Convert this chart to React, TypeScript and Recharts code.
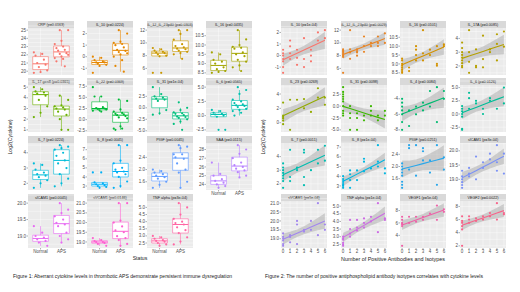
import React from "react";
import {
    ComposedChart,
    Scatter,
    Line,
    Area,
    XAxis,
    YAxis,
    CartesianGrid,
    ReferenceArea,
    ReferenceLine,
} from "recharts";

const FONT = "'Liberation Sans', Arial, sans-serif";

// ---- Figure 1: cytokine levels by status ----
const statusGroups = ["Normal", "APS"];

const boxTitles = [
    "CRP (p=0.0163)",
    "IL_10 (p=0.0224)",
    "IL_12_IL_23p40 (p=0.0303)",
    "IL_16 (p=0.0435)",
    "IL_17 gen8 (p=0.0365)",
    "IL_22 (p=0.0369)",
    "IL_31 (p=1e-04)",
    "IL_6 (p=0.0565)",
    "IL_7 (p=0.0224)",
    "IL_8 (p=0.0045)",
    "PIGF (p=0.0045)",
    "SAA (p=0.0115)",
    "sICAM1 (p=0.0045)",
    "sVCAM1 (p=0.0146)",
    "TNF alpha (p=3e-04)",
];

const boxColors = [
    "#F8766D", "#E58700", "#C99800", "#A3A500",
    "#6BB100", "#00BA38", "#00BF7D", "#00C0AF",
    "#00BCD8", "#00B0F6", "#619CFF", "#B983FF",
    "#E76BF3", "#FD61D1", "#FF67A4",
];

const boxNormal: number[][] = [
    [22.3, 22.1, 21.9, 21.4, 21.0, 20.8, 20.5, 20.1, 19.9, 19.8],
    [0.0, -0.1, -0.3, -0.4, -0.5, -0.5, -0.6, -0.7, -0.8, -1.4],
    [9.2, 9.0, 8.8, 8.6, 8.5, 8.4, 8.2, 8.0, 7.9, 5.3, 5.3],
    [9.6, 9.5, 9.2, 9.1, 9.0, 8.8, 8.7, 8.6, 8.55, 8.5],
    [5.0, 4.8, 4.6, 4.5, 4.4, 4.2, 3.8, 3.2, 2.6, 2.2],
    [7.3, 5.2, 5.2, 2.8, 2.6, 2.5, 2.4, 2.3, 2.1, 2.0, 1.8],
    [4.5, 3.0, 2.5, 2.2, 2.0, 1.8, 1.5, -0.5, -1.2, -1.5],
    [1.0, 0.8, 0.5, 0.3, 0.2, 0.0, -0.2, -2.5, -2.5],
    [3.3, 3.2, 2.9, 2.7, 2.6, 2.5, 2.4, 2.2, 2.0, 1.7],
    [4.5, 4.5, 3.4, 3.3, 3.2, 3.1, 3.0, 2.9, 2.8],
    [2.0, 1.95, 1.9, 1.85, 1.8, 1.75, 1.7, 1.6, 1.5, 1.4],
    [26.5, 25.2, 25.0, 24.6, 24.4, 24.2, 24.0, 23.8, 23.6],
    [19.3, 19.1, 19.0, 18.95, 18.9, 18.85, 18.8, 18.7],
    [19.2, 19.1, 19.05, 19.0, 19.0, 18.95, 18.9, 18.8],
    [3.0, 2.9, 2.8, 2.7, 2.65, 2.6, 2.5, 2.4, 2.3],
];

const boxAps: number[][] = [
    [25.0, 25.0, 23.7, 23.3, 23.0, 22.8, 22.6, 22.5, 22.2, 22.1, 22.0, 21.8, 21.6, 21.5, 21.2, 20.6],
    [2.3, 2.0, 1.3, 1.2, 1.1, 1.0, 0.8, 0.6, 0.5, 0.4, 0.3, 0.2, 0.0, -0.3, -0.8, -1.3],
    [12.0, 12.0, 11.4, 10.5, 9.8, 9.5, 9.3, 9.1, 9.0, 8.8, 8.6, 8.4, 8.2, 7.5],
    [10.8, 10.3, 10.0, 9.9, 9.85, 9.8, 9.6, 9.5, 9.4, 9.2, 9.1, 8.9, 8.8, 8.6],
    [4.2, 3.8, 3.3, 3.2, 3.1, 3.0, 2.9, 2.7, 2.4, 2.0, 1.0, 1.0],
    [4.5, 4.2, 2.3, 1.8, 1.5, 1.3, 1.2, 1.0, 0.8, 0.5, 0.3, -1.5, -2.0, -2.0, -2.3],
    [1.2, 0.0, -0.5, -1.0, -1.2, -1.3, -1.6, -1.9, -2.0, -2.2, -2.5, -3.0, -3.5, -4.8],
    [5.0, 4.5, 3.8, 2.8, 2.5, 2.2, 2.0, 1.8, 1.7, 1.5, 1.2, 1.0, 0.8, 0.5, 0.0],
    [4.5, 4.4, 4.3, 4.2, 4.0, 3.8, 3.5, 3.3, 3.0, 2.6, 2.3, 2.0, 1.8],
    [7.5, 7.5, 5.8, 5.5, 5.0, 4.8, 4.6, 4.5, 4.3, 4.0, 3.5, 3.0, 2.8],
    [2.8, 2.75, 2.7, 2.5, 2.5, 2.4, 2.35, 2.2, 2.0, 1.9, 1.6, 1.4],
    [28.5, 28.0, 27.5, 27.0, 26.5, 26.2, 26.0, 25.8, 25.6, 25.4, 25.0, 24.8],
    [20.0, 19.8, 19.7, 19.6, 19.5, 19.4, 19.35, 19.3, 19.1, 19.0, 18.9, 18.8],
    [21.0, 21.0, 20.1, 20.0, 19.8, 19.6, 19.5, 19.3, 19.2, 19.1, 18.9, 18.8],
    [5.3, 5.0, 4.5, 4.2, 4.0, 3.9, 3.8, 3.6, 3.4, 3.2, 2.9, 2.6, 2.4],
];

const boxTicks: number[][] = [
    [20, 21, 22, 23, 24, 25],
    [-1, 0, 1, 2],
    [6, 8, 10, 12],
    [8.5, 9.0, 9.5, 10.0, 10.5],
    [1, 2, 3, 4, 5],
    [-2.5, 0, 2.5, 5, 7.5],
    [-5, -2.5, 0, 2.5],
    [-2.5, 0, 2.5, 5],
    [2, 3, 4],
    [3, 4, 5, 6, 7],
    [1.6, 2.0, 2.4],
    [24, 25, 26, 27, 28],
    [19.0, 19.5, 20.0],
    [19.0, 19.5, 20.0, 20.5, 21.0],
    [2.5, 3.0, 3.5, 4.0, 4.5, 5.0],
];

// ---- Figure 2: cytokine levels vs number of positive antibodies ----
const countTicks = [0, 1, 2, 3, 4, 5, 6];

const fitTitles = [
    "IL_10 (p=1e-04)",
    "IL_12_IL_23p40 (p=0.0029)",
    "IL_16 (p=0.0101)",
    "IL_17A (p=0.0085)",
    "IL_23 (p=0.0269)",
    "IL_31 (p=0.0098)",
    "IL_4 (p=0.0084)",
    "IL_6 (p=0.0126)",
    "IL_7 (p=0.0011)",
    "IL_8 (p=1e-04)",
    "PIGF (p=0.0251)",
    "sICAM1 (p=3e-04)",
    "sVCAM1 (p=5e-04)",
    "TNF alpha (p=1e-04)",
    "VEGF1 (p=5e-04)",
    "VEGF2 (p=0.0022)",
];

const fitColors = [
    "#F8766D", "#E88526", "#D39200", "#B5A000",
    "#93AA00", "#3DB700", "#00BA70", "#00BE98",
    "#00BDB0", "#00B6E0", "#28A6EA", "#7C92F5",
    "#A287EE", "#CD6BE4", "#EE62A8", "#F7638A",
];

const fitCounts: number[][] = [
    [0, 0, 0, 0, 0, 0, 0, 1, 1, 1, 1, 2, 2, 2, 3, 3, 3, 4, 4, 4, 5, 5, 6, 6],
    [0, 0, 0, 0, 0, 0, 0, 0, 1, 1, 1, 1, 2, 2, 2, 2, 3, 3, 3, 4, 4, 5, 5, 5, 6, 6],
    [0, 0, 0, 0, 0, 0, 0, 0, 1, 1, 2, 2, 2, 2, 3, 3, 3, 4, 4, 5, 5, 5, 6, 6],
    [0, 0, 0, 0, 0, 0, 0, 0, 0, 1, 1, 1, 1, 2, 2, 2, 3, 3, 3, 4, 4, 5, 5, 5, 6, 6],
    [0, 0, 0, 0, 0, 0, 1, 1, 2, 3, 3, 4, 5, 5, 6, 6],
    [0, 0, 0, 0, 0, 0, 0, 0, 0, 0, 1, 1, 1, 1, 2, 2, 2, 3, 3, 4, 4, 4, 5, 5, 6, 6],
    [0, 0, 0, 0, 0, 0, 0, 1, 1, 2, 2, 3, 3, 4, 4, 5, 5, 6, 6],
    [0, 0, 0, 0, 0, 0, 0, 1, 1, 1, 2, 2, 3, 3, 4, 4, 5, 6, 6],
    [0, 0, 0, 0, 0, 0, 0, 0, 1, 1, 1, 2, 2, 3, 3, 3, 3, 4, 5, 5, 6, 6],
    [0, 0, 0, 0, 0, 0, 0, 1, 1, 1, 1, 2, 2, 3, 3, 3, 4, 5, 5, 5, 6, 6],
    [0, 0, 0, 0, 0, 0, 0, 0, 1, 1, 1, 2, 2, 3, 3, 3, 4, 4, 5, 5, 6, 6],
    [0, 0, 0, 0, 0, 0, 1, 1, 1, 2, 2, 3, 3, 4, 4, 5, 5, 5, 6, 6],
    [0, 0, 0, 0, 0, 0, 1, 1, 1, 2, 2, 2, 3, 3, 4, 4, 5, 5, 6, 6],
    [0, 0, 0, 0, 0, 0, 1, 1, 1, 1, 2, 2, 2, 3, 3, 3, 4, 4, 5, 5, 6, 6],
    [0, 0, 0, 0, 0, 0, 1, 1, 2, 2, 3, 3, 4, 5, 5, 6, 6],
    [0, 0, 0, 0, 0, 0, 1, 1, 1, 2, 2, 3, 3, 4, 4, 5, 5, 6, 6],
];

const fitLevels: number[][] = [
    [-1.5, -1.0, -0.5, -0.3, 0.0, 0.2, 0.5, 1.3, 0.8, 0.2, -0.3, 0.5, -0.2, -0.8, 1.5, -0.3, -1.0, -0.5, 0.0, 0.5, 1.3, 2.0, 2.2, 1.5],
    [9.0, 8.8, 8.6, 8.4, 8.2, 8.0, 7.8, 5.3, 12.0, 7.5, 8.5, 9.0, 8.5, 8.7, 9.0, 8.0, 11.0, 9.5, 8.6, 9.5, 10.0, 11.0, 10.0, 9.5, 11.5, 10.0],
    [9.3, 9.2, 9.0, 8.9, 8.8, 8.7, 8.6, 8.5, 8.8, 8.6, 9.5, 9.8, 10.0, 9.2, 10.9, 9.6, 9.2, 9.5, 9.8, 9.0, 8.9, 10.0, 10.1, 10.0],
    [3.7, 3.3, 3.0, 2.8, 2.6, 2.4, 2.2, 2.0, 1.9, 4.6, 3.0, 2.3, 1.5, 3.2, 2.0, 1.9, 4.2, 2.5, 1.9, 3.2, 3.0, 4.3, 3.6, 2.4, 4.5, 3.4],
    [2.8, 1.0, 0.8, 0.6, 0.3, -0.2, 3.2, -1.0, 3.2, 3.3, 2.0, 1.5, 4.8, 3.5, 3.5, 2.5],
    [4.0, 3.0, 2.5, 2.0, 1.5, 1.0, 0.0, -1.0, -1.5, -2.0, 0.0, -1.5, -2.5, -5.0, -1.5, -2.5, -5.0, -2.0, -3.0, -1.0, 0.0, -2.0, -2.0, -3.0, -1.0, -2.0],
    [-4.0, -4.5, -5.0, -5.5, -6.0, -7.0, -8.0, -5.5, -7.5, -5.0, -6.0, -4.5, -5.5, -3.0, -5.0, -2.5, -7.0, -3.0, -4.0],
    [1.5, 1.0, 0.5, 0.0, -0.5, -2.8, -3.0, 4.0, 3.0, 1.0, 2.5, 2.0, 1.0, 0.0, 3.0, 2.5, 1.0, 5.0, 2.0],
    [3.5, 3.2, 3.0, 2.8, 2.6, 2.4, 2.2, 1.7, 4.5, 2.5, 2.2, 3.2, 3.0, 4.5, 4.3, 2.5, 1.9, 3.0, 4.5, 3.5, 4.8, 3.7],
    [4.0, 3.7, 3.5, 3.3, 3.1, 3.0, 2.8, 4.6, 4.2, 3.6, 2.8, 4.6, 3.6, 5.8, 5.5, 4.5, 4.8, 7.2, 5.5, 5.0, 4.8, 4.3],
    [2.1, 2.0, 1.9, 1.8, 1.7, 1.5, 1.4, 1.3, 2.7, 2.6, 1.9, 2.7, 1.7, 2.6, 2.5, 2.2, 2.2, 1.8, 2.7, 1.4, 2.3, 1.9],
    [19.3, 19.1, 19.0, 18.9, 18.8, 18.7, 19.4, 19.2, 19.1, 19.8, 19.0, 19.6, 19.4, 19.9, 19.7, 20.2, 19.6, 19.3, 19.9, 19.2],
    [19.3, 19.1, 19.0, 18.9, 18.7, 18.6, 19.2, 19.1, 18.8, 20.0, 19.8, 18.7, 19.5, 19.4, 20.0, 19.5, 21.0, 19.2, 19.8, 19.5],
    [3.0, 2.9, 2.8, 2.6, 2.5, 2.4, 4.1, 3.5, 3.2, 3.0, 4.1, 3.6, 3.4, 4.2, 3.9, 3.6, 4.3, 4.0, 5.2, 3.3, 4.2, 4.1],
    [7.0, 6.5, 6.0, 5.8, 5.5, 2.3, 7.0, 6.0, 7.0, 6.2, 7.0, 6.5, 7.5, 8.8, 6.5, 8.2, 7.8],
    [6.5, 5.8, 5.5, 5.0, 4.5, 2.0, 6.5, 6.0, 5.5, 6.2, 5.8, 6.5, 6.0, 7.0, 6.5, 8.5, 6.0, 7.0, 6.8],
];

const fitTicks: number[][] = [
    [-1, 0, 1, 2],
    [6, 8, 10, 12],
    [8.5, 9.0, 9.5, 10.0, 10.5],
    [2, 3, 4],
    [0, 2, 4],
    [-5, -2.5, 0, 2.5],
    [-8, -6, -4],
    [-2.5, 0, 2.5, 5],
    [2, 3, 4],
    [3, 4, 5, 6, 7],
    [1.6, 2.0, 2.4],
    [19.0, 19.5, 20.0],
    [19.0, 19.5, 20.0, 20.5, 21.0],
    [2.5, 3.0, 3.5, 4.0, 4.5, 5.0],
    [4, 6, 8],
    [2, 4, 6, 8],
];

// ---- layout ----
const leftCols = [28, 87, 147, 206];
const rightCols = [281, 341, 400, 460];
const rowTops = [21, 78, 136, 194];
const STRIP_H = 7;
const PANEL_W = 46;
const PANEL_H = 47;
const YAXIS_W = 14;
const XAXIS_H = 8;

const tickStyle = { fontSize: 4.5, fill: "#4D4D4D", fontFamily: FONT };
const tickLineStyle = { stroke: "#333333", strokeWidth: 0.4 };

function decimalsOf(ticks: number[]) {
    return Math.max(...ticks.map((t) => (String(t).split(".")[1] || "").length));
}

function quantile(sorted: number[], p: number) {
    const pos = (sorted.length - 1) * p;
    const lo = Math.floor(pos);
    const hi = Math.ceil(pos);
    return sorted[lo] + (sorted[hi] - sorted[lo]) * (pos - lo);
}

function boxStats(values: number[]) {
    const s = [...values].sort((a, b) => a - b);
    const q1 = quantile(s, 0.25);
    const med = quantile(s, 0.5);
    const q3 = quantile(s, 0.75);
    const iqr = q3 - q1;
    const lo = s.filter((v) => v >= q1 - 1.5 * iqr)[0];
    const inside = s.filter((v) => v <= q3 + 1.5 * iqr);
    const hi = inside[inside.length - 1];
    return { q1, med, q3, lo, hi };
}

function expand(min: number, max: number): [number, number] {
    const pad = (max - min) * 0.05;
    return [min - pad, max + pad];
}

function minorValues(ticks: number[]) {
    const step = ticks[1] - ticks[0];
    return [ticks[0] - step / 2, ...ticks, ...ticks.map((t) => t + step / 2)];
}

function Strip(props: { left: number; top: number; title: string }) {
    return (
        <svg
            width={PANEL_W}
            height={STRIP_H}
            style={{ position: "absolute", left: props.left, top: props.top }}
        >
            <rect width={PANEL_W} height={STRIP_H} fill="#D9D9D9" />
            <text
                x={PANEL_W / 2}
                y={STRIP_H / 2 + 1.3}
                textAnchor="middle"
                fontSize={3.7}
                fill="#1A1A1A"
                fontFamily={FONT}
            >
                {props.title}
            </text>
        </svg>
    );
}

function BoxFacet(props: { index: number }) {
    const i = props.index;
    const col = i % 4;
    const row = Math.floor(i / 4);
    const showX = i >= 11;
    const color = boxColors[i];
    const groups = [boxNormal[i], boxAps[i]];
    const points = groups.flatMap((vals, g) =>
        vals.map((y, k) => ({ x: g + 1 + ((((k * 5 + g * 3) % 9) - 4) * 0.08), y }))
    );
    const all = groups.flat();
    const domain = expand(Math.min(...all), Math.max(...all));
    const ticks = boxTicks[i];
    const dec = decimalsOf(ticks);
    const stats = groups.map(boxStats);
    const left = leftCols[col];
    const top = rowTops[row];

    return (
        <>
            <Strip left={left} top={top} title={boxTitles[i]} />
            <div style={{ position: "absolute", left: left - YAXIS_W, top: top + STRIP_H }}>
                <ComposedChart
                    width={PANEL_W + YAXIS_W}
                    height={PANEL_H + (showX ? XAXIS_H : 0)}
                    data={points}
                    margin={{ top: 0, right: 0, bottom: 0, left: 0 }}
                >
                    <CartesianGrid
                        fill="#EBEBEB"
                        stroke="#FFFFFF"
                        strokeWidth={0.4}
                        horizontalValues={minorValues(ticks)}
                        verticalValues={[1, 2]}
                    />
                    <XAxis
                        type="number"
                        dataKey="x"
                        domain={[0.4, 2.6]}
                        ticks={[1, 2]}
                        hide={!showX}
                        height={XAXIS_H}
                        interval={0}
                        tickFormatter={(v: number) => statusGroups[v - 1]}
                        tick={tickStyle}
                        tickSize={1.5}
                        tickMargin={0.5}
                        axisLine={false}
                        tickLine={tickLineStyle}
                        allowDataOverflow
                    />
                    <YAxis
                        type="number"
                        dataKey="y"
                        domain={domain}
                        ticks={ticks}
                        width={YAXIS_W}
                        interval={0}
                        tickFormatter={(v: number) => v.toFixed(dec)}
                        tick={tickStyle}
                        tickSize={1.5}
                        tickMargin={0.5}
                        axisLine={false}
                        tickLine={tickLineStyle}
                        allowDataOverflow
                    />
                    {stats.map((s, g) => (
                        <ReferenceLine
                            key={`wl${g}`}
                            segment={[{ x: g + 1, y: s.lo }, { x: g + 1, y: s.q1 }]}
                            stroke={color}
                            strokeWidth={0.6}
                        />
                    ))}
                    {stats.map((s, g) => (
                        <ReferenceLine
                            key={`wh${g}`}
                            segment={[{ x: g + 1, y: s.q3 }, { x: g + 1, y: s.hi }]}
                            stroke={color}
                            strokeWidth={0.6}
                        />
                    ))}
                    {stats.map((s, g) => (
                        <ReferenceArea
                            key={`b${g}`}
                            x1={g + 1 - 0.375}
                            x2={g + 1 + 0.375}
                            y1={s.q1}
                            y2={s.q3}
                            fill="#FFFFFF"
                            fillOpacity={1}
                            stroke={color}
                            strokeWidth={0.6}
                        />
                    ))}
                    {stats.map((s, g) => (
                        <ReferenceLine
                            key={`m${g}`}
                            segment={[{ x: g + 1 - 0.375, y: s.med }, { x: g + 1 + 0.375, y: s.med }]}
                            stroke={color}
                            strokeWidth={1}
                        />
                    ))}
                    <Scatter
                        dataKey="y"
                        isAnimationActive={false}
                        shape={(p: any) => <circle cx={p.cx} cy={p.cy} r={1.1} fill={color} />}
                    />
                </ComposedChart>
            </div>
        </>
    );
}

function fitLine(xs: number[], ys: number[]) {
    const n = xs.length;
    const mx = xs.reduce((a, b) => a + b, 0) / n;
    const my = ys.reduce((a, b) => a + b, 0) / n;
    let sxx = 0;
    let sxy = 0;
    xs.forEach((x, k) => {
        sxx += (x - mx) ** 2;
        sxy += (x - mx) * (ys[k] - my);
    });
    const b = sxy / sxx;
    const a = my - b * mx;
    let sse = 0;
    xs.forEach((x, k) => {
        sse += (ys[k] - a - b * x) ** 2;
    });
    const s = Math.sqrt(sse / (n - 2));
    return countTicks.map((x) => {
        const f = a + b * x;
        const se = s * Math.sqrt(1 / n + (x - mx) ** 2 / sxx) * 2.07;
        return { x, fit: f, band: [f - se, f + se] };
    });
}

function FitFacet(props: { index: number }) {
    const i = props.index;
    const col = i % 4;
    const row = Math.floor(i / 4);
    const showX = row === 3;
    const color = fitColors[i];
    const pts = fitCounts[i].map((x, k) => ({ x, y: fitLevels[i][k] }));
    const fit = fitLine(fitCounts[i], fitLevels[i]);
    const all = [
        ...fitLevels[i],
        ...fit.map((f) => f.band[0]),
        ...fit.map((f) => f.band[1]),
    ];
    const domain = expand(Math.min(...all), Math.max(...all));
    const ticks = fitTicks[i];
    const dec = decimalsOf(ticks);
    const left = rightCols[col];
    const top = rowTops[row];

    return (
        <>
            <Strip left={left} top={top} title={fitTitles[i]} />
            <div style={{ position: "absolute", left: left - YAXIS_W, top: top + STRIP_H }}>
                <ComposedChart
                    width={PANEL_W + YAXIS_W}
                    height={PANEL_H + (showX ? XAXIS_H : 0)}
                    data={fit}
                    margin={{ top: 0, right: 0, bottom: 0, left: 0 }}
                >
                    <CartesianGrid
                        fill="#EBEBEB"
                        stroke="#FFFFFF"
                        strokeWidth={0.4}
                        horizontalValues={minorValues(ticks)}
                        verticalValues={countTicks}
                    />
                    <XAxis
                        type="number"
                        dataKey="x"
                        domain={[-0.3, 6.3]}
                        ticks={countTicks}
                        hide={!showX}
                        height={XAXIS_H}
                        interval={0}
                        tick={tickStyle}
                        tickSize={1.5}
                        tickMargin={0.5}
                        axisLine={false}
                        tickLine={tickLineStyle}
                        allowDataOverflow
                    />
                    <YAxis
                        type="number"
                        domain={domain}
                        ticks={ticks}
                        width={YAXIS_W}
                        interval={0}
                        tickFormatter={(v: number) => v.toFixed(dec)}
                        tick={tickStyle}
                        tickSize={1.5}
                        tickMargin={0.5}
                        axisLine={false}
                        tickLine={tickLineStyle}
                        allowDataOverflow
                    />
                    <Scatter
                        data={pts}
                        dataKey="y"
                        isAnimationActive={false}
                        shape={(p: any) => <circle cx={p.cx} cy={p.cy} r={1.1} fill={color} />}
                    />
                    <Area
                        dataKey="band"
                        type="linear"
                        stroke="none"
                        fill="#999999"
                        fillOpacity={0.4}
                        isAnimationActive={false}
                        activeDot={false}
                    />
                    <Line
                        dataKey="fit"
                        type="linear"
                        stroke={color}
                        strokeWidth={1.1}
                        dot={false}
                        activeDot={false}
                        isAnimationActive={false}
                    />
                </ComposedChart>
            </div>
        </>
    );
}

export default function App() {
    return (
        <div
            style={{
                position: "absolute",
                left: 0,
                top: 0,
                width: 520,
                height: 292,
                background: "#FFFFFF",
                overflow: "hidden",
                fontFamily: FONT,
            }}
        >
            <style>{".recharts-surface{overflow:visible}"}</style>
            {boxTitles.map((_, i) => (
                <BoxFacet key={`box${i}`} index={i} />
            ))}
            {fitTitles.map((_, i) => (
                <FitFacet key={`fit${i}`} index={i} />
            ))}
            <svg
                width={520}
                height={292}
                style={{ position: "absolute", left: 0, top: 0, pointerEvents: "none" }}
            >
                <text
                    transform="translate(12,137) rotate(-90)"
                    textAnchor="middle"
                    fontSize={5.2}
                    fill="#1A1A1A"
                    fontFamily={FONT}
                >
                    Log2(Cytokine)
                </text>
                <text
                    transform="translate(265,137) rotate(-90)"
                    textAnchor="middle"
                    fontSize={5.2}
                    fill="#1A1A1A"
                    fontFamily={FONT}
                >
                    Log2(Cytokine)
                </text>
                <text x={140} y={260} textAnchor="middle" fontSize={5.2} fill="#1A1A1A" fontFamily={FONT}>
                    Status
                </text>
                <text
                    x={393}
                    y={261}
                    textAnchor="middle"
                    fontSize={5.4}
                    fill="#1A1A1A"
                    fontFamily={FONT}
                >
                    Number of Positive Antibodies and Isotypes
                </text>
                <text
                    x={13}
                    y={278}
                    fontSize={4.6}
                    fill="#222222"
                    fontFamily={FONT}
                    textLength={219}
                    lengthAdjust="spacingAndGlyphs"
                >
                    Figure 1: Aberrant cytokine levels in thrombotic APS demonstrate persistent immune dysregulation
                </text>
                <text
                    x={265}
                    y={278}
                    fontSize={4.6}
                    fill="#222222"
                    fontFamily={FONT}
                    textLength={218}
                    lengthAdjust="spacingAndGlyphs"
                >
                    Figure 2: The number of positive antiphospholipid antibody isotypes correlates with cytokine levels
                </text>
            </svg>
        </div>
    );
}
